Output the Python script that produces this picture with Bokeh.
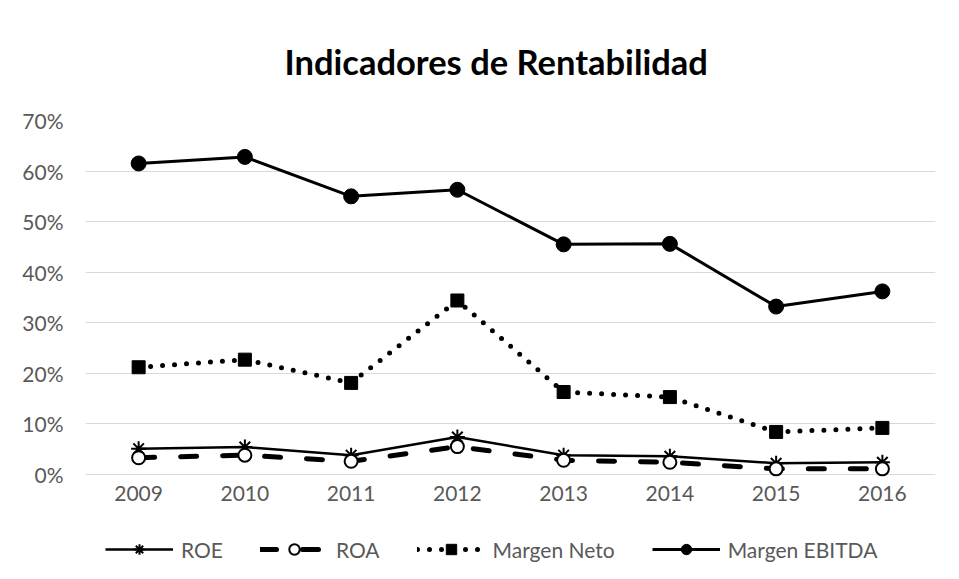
from bokeh.plotting import figure
from bokeh.models import Range1d, FactorRange, Legend, LegendItem, PrintfTickFormatter, FixedTicker
from bokeh.embed import file_html
from bokeh.resources import INLINE

years = ["2009", "2010", "2011", "2012", "2013", "2014", "2015", "2016"]
roe = [5.1, 5.4, 3.8, 7.4, 3.8, 3.6, 2.2, 2.4]
roa = [3.3, 3.8, 2.6, 5.5, 2.8, 2.4, 1.1, 1.1]
margen_neto = [21.2, 22.7, 18.1, 34.4, 16.3, 15.3, 8.4, 9.2]
margen_ebitda = [61.5, 62.8, 55.0, 56.3, 45.5, 45.6, 33.2, 36.2]
y_ticks = [0, 10, 20, 30, 40, 50, 60, 70]

FONT = "Lato"
GRAY = "#595959"

# frame extends below the 0% line to host the x labels and legend
p = figure(frame_width=850, frame_height=451,
           x_range=FactorRange(*years, range_padding=0),
           y_range=Range1d(-19.2, 70),
           output_backend="svg", toolbar_location=None,
           min_border_left=85, min_border_right=15,
           min_border_top=120, min_border_bottom=4)

p.title.text = "Indicadores de Rentabilidad"
p.title.align = "left"
p.title.vertical_align = "top"
p.title.text_font = FONT
p.title.text_font_size = "34.5px"
p.title.text_font_style = "bold"
p.title.text_color = "black"
p.title.offset = 199
p.title.standoff = 74

p.outline_line_color = None
p.xgrid.grid_line_color = None
p.ygrid.grid_line_color = "#d9d9d9"
p.ygrid.grid_line_width = 1

p.yaxis.ticker = FixedTicker(ticks=y_ticks)
p.yaxis.formatter = PrintfTickFormatter(format="%d%%")
p.xaxis.fixed_location = 0
for ax in (p.xaxis[0], p.yaxis[0]):
    ax.axis_line_color = None
    ax.major_tick_line_color = None
    ax.minor_tick_line_color = None
    ax.major_tick_out = 0
    ax.major_tick_in = 0
    ax.minor_tick_out = 0
    ax.major_label_text_font = FONT
    ax.major_label_text_font_size = "21px"
    ax.major_label_text_color = GRAY
p.yaxis.major_label_standoff = 22
p.xaxis.major_label_standoff = 12

l1 = p.line(years, roe, line_color="black", line_width=2.5)
s1 = p.scatter(years, roe, marker="asterisk", size=15, line_color="black", line_width=2)

l2 = p.line(years, roa, line_color="black", line_width=5, line_dash="16 26", line_cap="round")
s2 = p.scatter(years, roa, marker="circle", size=13, line_color="black", fill_color="white", line_width=2)

l3 = p.line(years, margen_neto, line_color="black", line_width=5, line_dash="0 12", line_cap="round")
s3 = p.scatter(years, margen_neto, marker="square", size=13, line_color="black", fill_color="black")

l4 = p.line(years, margen_ebitda, line_color="black", line_width=3)
s4 = p.scatter(years, margen_ebitda, marker="circle", size=15, line_color="black", fill_color="black")

legend = Legend(items=[
    LegendItem(label="ROE", renderers=[l1, s1]),
    LegendItem(label="ROA", renderers=[l2, s2]),
    LegendItem(label="Margen Neto", renderers=[l3, s3]),
    LegendItem(label="Margen EBITDA", renderers=[l4, s4]),
], orientation="horizontal", location=(20, 9))
legend.glyph_width = 68
legend.glyph_height = 26
legend.label_standoff = 8
legend.spacing = 37
legend.padding = 0
legend.margin = 0
legend.border_line_color = None
legend.background_fill_alpha = 0
legend.label_text_font = FONT
legend.label_text_font_size = "21px"
legend.label_text_color = GRAY
p.add_layout(legend, "center")

open("out.html", "w").write(file_html(p, INLINE))
